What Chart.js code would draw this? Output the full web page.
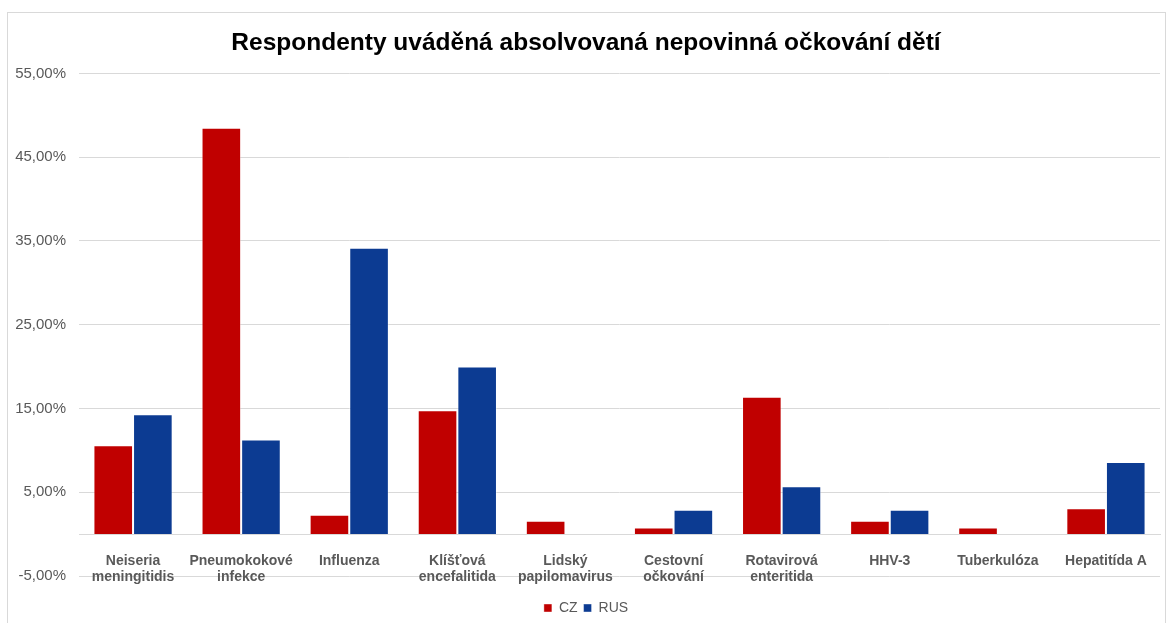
<!DOCTYPE html>
<html>
<head>
<meta charset="utf-8">
<script src="https://cdn.jsdelivr.net/npm/chart.js@4"></script>
<style>
  body { margin: 0; background: #fff; }
  #frame { position: absolute; left: 7px; top: 12px; width: 1157px; height: 640px; border: 1px solid #d9d9d9; }
  #chart { position: absolute; left: 0; top: 0; }
</style>
</head>
<body>
<div id="frame"></div>
<canvas id="chart" width="1169" height="623"></canvas>
<script>
const categories = [
  ['Neiseria', 'meningitidis'],
  ['Pneumokokové', 'infekce'],
  'Influenza',
  ['Klíšťová', 'encefalitida'],
  ['Lidský', 'papilomavirus'],
  ['Cestovní', 'očkování'],
  ['Rotavirová', 'enteritida'],
  'HHV-3',
  'Tuberkulóza',
  'Hepatitída A'
];
const czValues = [10.6, 48.5, 2.3, 14.8, 1.6, 0.8, 16.4, 1.6, 0.8, 3.1];
const rusValues = [14.3, 11.3, 34.2, 20.0, 0, 2.9, 5.7, 2.9, 0, 8.6];
const yMin = -5, yMax = 55, yStep = 10;

window.onload = function () {
  new Chart(document.getElementById('chart'), {
    type: 'bar',
    data: {
      labels: categories,
      datasets: [
        { label: 'CZ', data: czValues, backgroundColor: '#c00000', borderColor: 'rgba(255,255,255,0.4)', borderWidth: 1 },
        { label: 'RUS', data: rusValues, backgroundColor: '#0c3b92', borderColor: 'rgba(255,255,255,0.4)', borderWidth: 1 }
      ]
    },
    options: {
      responsive: false,
      animation: false,
      categoryPercentage: 0.733,
      barPercentage: 1,
      layout: { padding: { left: 12, right: 9, top: 0, bottom: -2 } },
      plugins: {
        title: {
          display: true,
          text: 'Respondenty uváděná absolvovaná nepovinná očkování dětí',
          color: '#000',
          font: { family: 'Liberation Sans, Arial', size: 24.5, weight: 'bold' },
          padding: { top: 29, bottom: 15 }
        },
        legend: {
          position: 'bottom',
          title: { display: true, text: '', font: { size: 10 }, padding: { top: 7, bottom: 0 } },
          labels: {
            boxWidth: 8, boxHeight: 8, padding: 6,
            color: '#595959',
            font: { family: 'Liberation Sans, Arial', size: 14 }
          }
        },
        tooltip: { enabled: false }
      },
      scales: {
        x: {
          position: { y: 0 },
          grid: { display: false, drawTicks: false },
          border: { display: true, color: '#d9d9d9', width: 1 },
          ticks: {
            color: '#595959', padding: 19, maxRotation: 0, autoSkip: false,
            font: { family: 'Liberation Sans, Arial', size: 14, weight: 'bold', lineHeight: 1.15 }
          }
        },
        y: {
          min: yMin, max: yMax,
          afterFit: function (s) { s.width = 67; },
          grid: { color: '#d9d9d9', drawTicks: false },
          border: { display: false },
          ticks: {
            stepSize: yStep, padding: 13, color: '#595959',
            font: { family: 'Liberation Sans, Arial', size: 15 },
            callback: function (v) { return v.toFixed(2).replace('.', ',') + '%'; }
          }
        }
      }
    }
  });
};
</script>
</body>
</html>
